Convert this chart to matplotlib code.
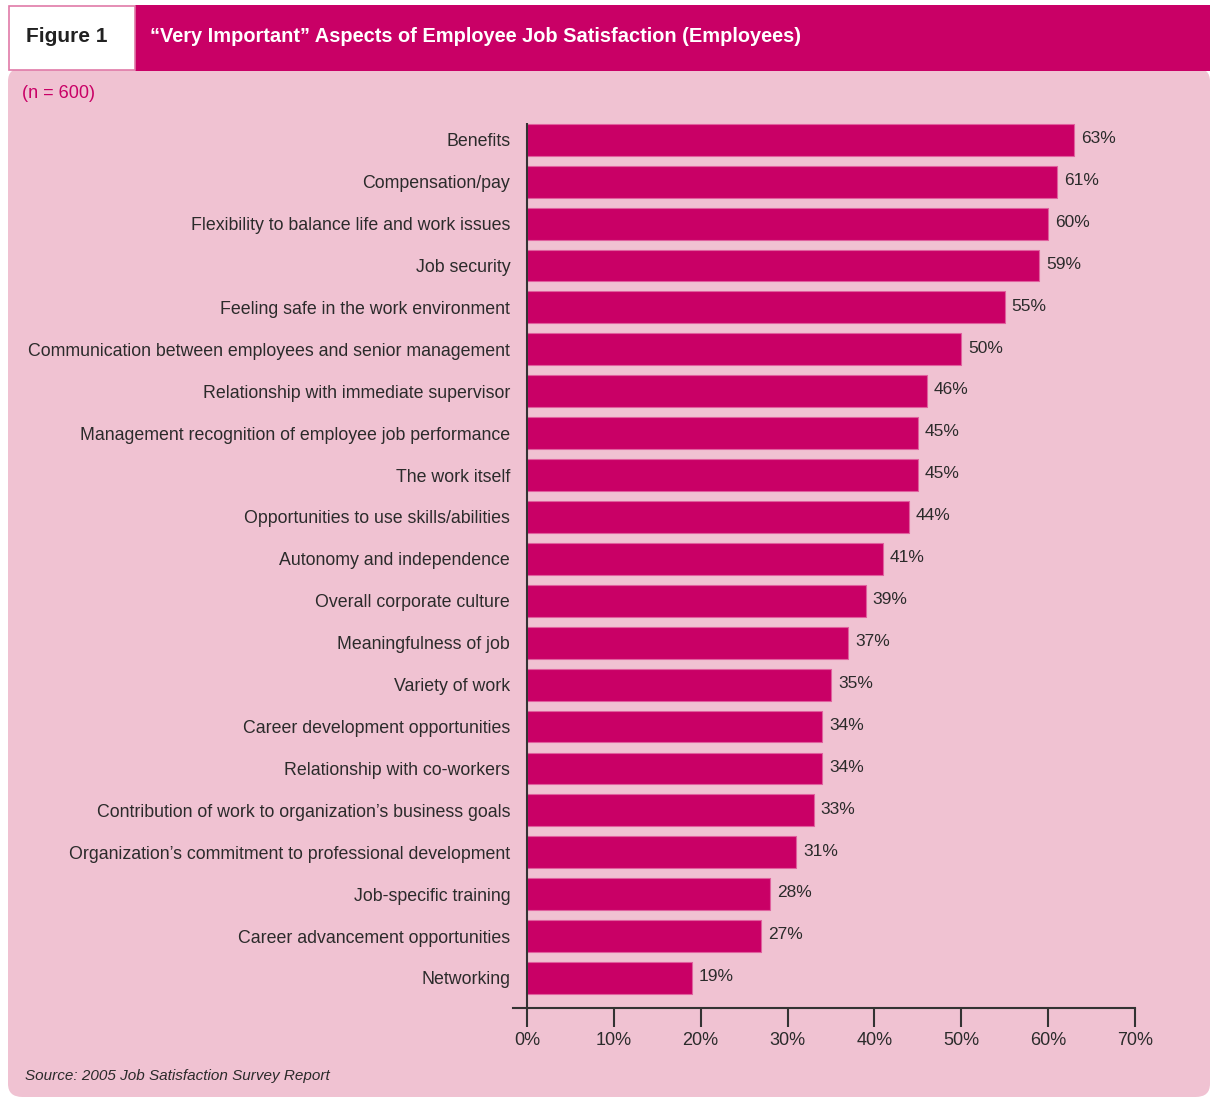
import matplotlib
matplotlib.use("Agg")
from matplotlib import pyplot as plt
from matplotlib.patches import FancyBboxPatch, Rectangle
import numpy as np

plt.rcParams['font.family'] = ['Liberation Sans', 'DejaVu Sans']

aspects = ["Benefits", "Compensation/pay", "Flexibility to balance life and work issues",
           "Job security", "Feeling safe in the work environment",
           "Communication between employees and senior management",
           "Relationship with immediate supervisor",
           "Management recognition of employee job performance", "The work itself",
           "Opportunities to use skills/abilities", "Autonomy and independence",
           "Overall corporate culture", "Meaningfulness of job", "Variety of work",
           "Career development opportunities", "Relationship with co-workers",
           "Contribution of work to organization\u2019s business goals",
           "Organization\u2019s commitment to professional development",
           "Job-specific training", "Career advancement opportunities", "Networking"]
pct = [63, 61, 60, 59, 55, 50, 46, 45, 45, 44, 41, 39, 37, 35, 34, 34, 33, 31, 28, 27, 19]
xticks = [0, 10, 20, 30, 40, 50, 60, 70]

magenta = "#c90066"
panel = "#f0c2d2"
txt = "#2b2b2b"

W, H = 1210, 1097
fig = plt.figure(figsize=(W / 100, H / 100), dpi=100)
fig.patch.set_facecolor("white")

# pink panel
fig.patches.append(FancyBboxPatch((8 / W, 0.0), (W - 8) / W, (H - 68) / H,
                                  boxstyle="round,pad=0,rounding_size=0.012",
                                  transform=fig.transFigure, facecolor=panel,
                                  edgecolor="none", zorder=-2))
# header band
fig.patches.append(Rectangle((135 / W, 1 - 71 / H), (W - 135) / W, 66 / H,
                             transform=fig.transFigure, facecolor=magenta,
                             edgecolor="none", zorder=-1))
fig.patches.append(Rectangle((9 / W, 1 - 70 / H), 126 / W, 64 / H,
                             transform=fig.transFigure, facecolor="white",
                             edgecolor="#e07aa8", linewidth=1.2, zorder=-1))
fig.text(26 / W, 1 - 37 / H, "Figure 1", fontsize=15, fontweight="bold",
         color="#222222", va="center", ha="left")
fig.text(150 / W, 1 - 37 / H, "\u201cVery Important\u201d Aspects of Employee Job Satisfaction (Employees)",
         fontsize=14.4, fontweight="bold", color="white", va="center", ha="left")
fig.text(22 / W, 1 - 93 / H, "(n = 600)", fontsize=13, color=magenta,
         va="center", ha="left")
fig.text(25 / W, 1 - 1076 / H, "Source: 2005 Job Satisfaction Survey Report",
         fontsize=11, style="italic", color=txt, va="center", ha="left")

ax = fig.add_axes([513 / W, 1 - 1008 / H, (1135 - 513) / W, (1008 - 123) / H])
ax.set_facecolor("none")
ax.set_zorder(2)
y = np.arange(len(aspects))
ax.barh(y, pct, height=0.76, color=magenta, edgecolor="#e0609e", linewidth=0.8, zorder=2)
for yi, v in zip(y, pct):
    ax.text(v + 0.8, yi - 0.03, f"{v}%", fontsize=12.5, color=txt, va="center", ha="left")

ax.set_xlim(-1.6, 70)
ax.set_ylim(len(aspects) - 1 + 0.716, -0.4)
ax.set_xticks(xticks)
ax.set_xticklabels([f"{t}%" for t in xticks], fontsize=13, color=txt)
ax.set_yticks(y)
ax.set_yticklabels(aspects, fontsize=12.8, color=txt)
ax.tick_params(axis="y", length=0, pad=2)
ax.tick_params(axis="x", length=14, width=1.5, color="#333333", pad=3, direction="out")
for s in ["top", "right", "left"]:
    ax.spines[s].set_visible(False)
ax.spines["bottom"].set_color("#333333")
ax.spines["bottom"].set_linewidth(1.5)
ax.axvline(0, color="#333333", linewidth=1.5, zorder=3)

fig.savefig("out.png", dpi=100)
